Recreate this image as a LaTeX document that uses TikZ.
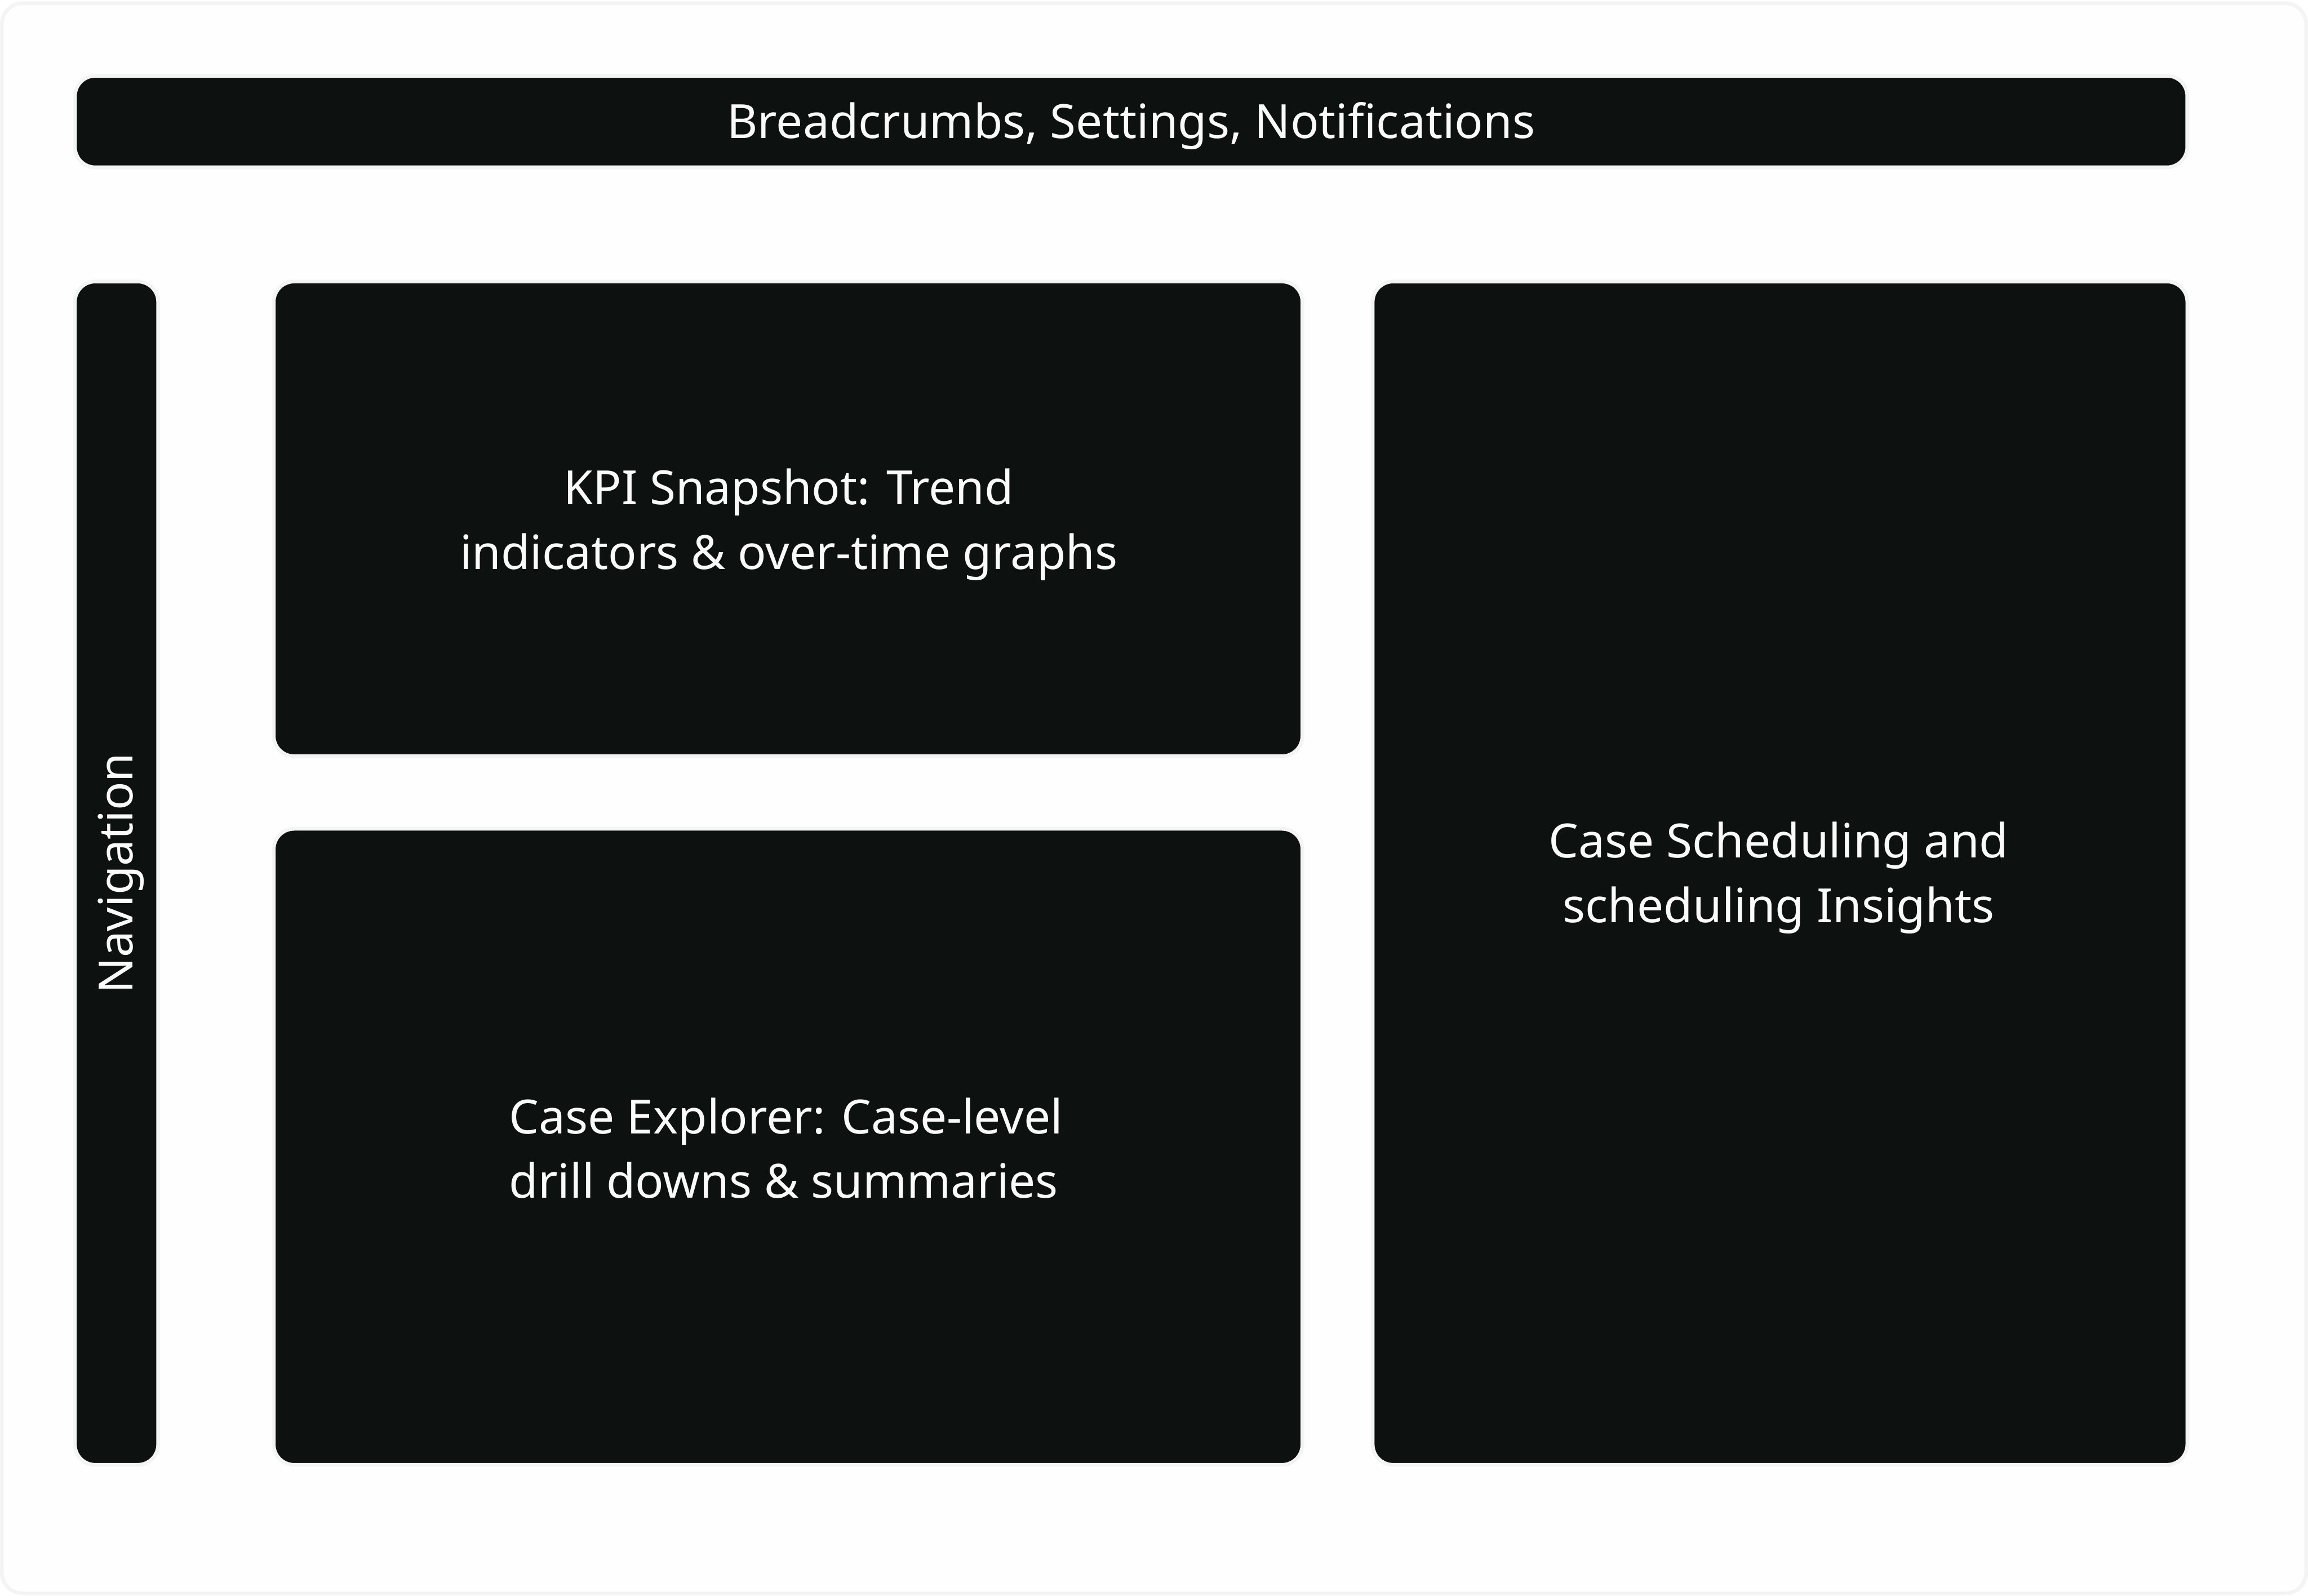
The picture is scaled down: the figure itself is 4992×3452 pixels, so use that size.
\documentclass[tikz,border=0pt]{standalone}
\usepackage{fontspec}
\setmainfont{Noto Sans}
\definecolor{boxfill}{HTML}{0D1110}
\definecolor{rim}{HTML}{F4F4F4}
\definecolor{txt}{HTML}{FAFAFA}
\definecolor{paper}{HTML}{FEFEFE}
\begin{document}
\begin{tikzpicture}[x=0.1pt,y=-0.1pt,
  panel/.style={rectangle, fill=boxfill, draw=rim, line width=0.8pt, rounded corners=4.4pt, inner sep=0pt},
  lbl/.style={text=txt, inner sep=0pt, font=\fontsize{10.2}{14}\selectfont},
]
\useasboundingbox (0,0) rectangle (4992,3452);
\draw[rim, line width=0.8pt, fill=paper, rounded corners=4.5pt] (4,7) rectangle (4988,3447);
\node[panel, minimum width=456.9pt, minimum height=19.8pt] (top) at (2446.5,263) {};
\node[lbl] (toplbl) at (2446.5,272) {Breadcrumbs, Settings, Notifications};
\node[panel, minimum width=18pt, minimum height=256pt] (nav) at (252,1889) {};
\node[lbl, rotate=90] (navlbl) at (262,1889) {Navigation};
\node[panel, minimum width=222.5pt, minimum height=102.7pt] (kpi) at (1704.5,1122.5) {};
\node[lbl, align=center] (kpilbl) at (1706,1135) {KPI Snapshot: Trend\\indicators \& over-time graphs};
\node[panel, minimum width=222.5pt, minimum height=137.6pt] (explorer) at (1704.5,2481) {};
\node[lbl, align=left] (explorerlbl) at (1700,2484) {Case Explorer: Case-level\\drill downs \& summaries};
\node[panel, minimum width=176.2pt, minimum height=256pt] (sched) at (3850,1889) {};
\node[lbl, align=center] (schedlbl) at (3847,1899) {Case Scheduling and\\scheduling Insights};
\end{tikzpicture}
\end{document}
